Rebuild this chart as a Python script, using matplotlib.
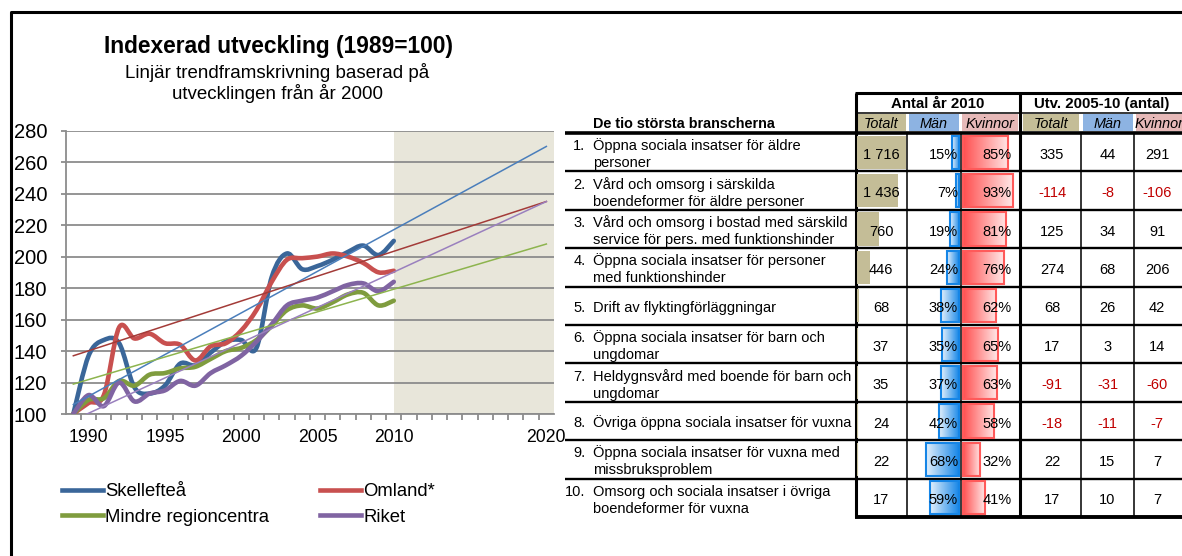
import numpy as np
import matplotlib
matplotlib.use("Agg")
import matplotlib.pyplot as plt
from matplotlib.path import Path
from matplotlib.patches import PathPatch, Rectangle
from matplotlib.lines import Line2D
from matplotlib.colors import LinearSegmentedColormap
from matplotlib import transforms

plt.rcParams['font.family'] = ['Liberation Sans', 'DejaVu Sans']

W, H = 1182, 556

# --- index series (1989 = 100) ---
years = list(range(1989, 2011))
skelleftea = [100, 137, 147, 145, 117, 113, 118, 132, 131, 139, 146, 147, 142, 187, 202, 192, 194, 198, 203, 207, 201, 210]
omland = [100, 107, 112, 155, 148, 151, 145, 144, 134, 143, 145, 153, 166, 184, 198, 199, 200, 202, 200, 196, 190, 191]
mindre = [100, 109, 110, 121, 118, 125, 126, 129, 130, 135, 140, 142, 147, 156, 166, 169, 167, 171, 176, 177, 169, 172]
riket = [100, 112, 105, 120, 108, 113, 115, 121, 118, 126, 131, 137, 146, 157, 169, 172, 174, 178, 182, 183, 178, 184]

# linear trend lines, value at first and last year
trend_years = [1989, 2020]
trend_skelleftea = [106, 270]
trend_omland = [137, 235]
trend_mindre = [119, 208]
trend_riket = [96, 235]

xtick_years = [1990, 1995, 2000, 2005, 2010, 2020]
forecast = (2010, 2020.5)

# --- table ---
branscher = [
    "Öppna sociala insatser för äldre\npersoner",
    "Vård och omsorg i särskilda\nboendeformer för äldre personer",
    "Vård och omsorg i bostad med särskild\nservice för pers. med funktionshinder",
    "Öppna sociala insatser för personer\nmed funktionshinder",
    "Drift av flyktingförläggningar",
    "Öppna sociala insatser för barn och\nungdomar",
    "Heldygnsvård med boende för barn och\nungdomar",
    "Övriga öppna sociala insatser för vuxna",
    "Öppna sociala insatser för vuxna med\nmissbruksproblem",
    "Omsorg och sociala insatser i övriga\nboendeformer för vuxna",
]
totalt = [1716, 1436, 760, 446, 68, 37, 35, 24, 22, 17]
man_pct = [15, 7, 19, 24, 38, 35, 37, 42, 68, 59]
kv_pct = [85, 93, 81, 76, 62, 65, 63, 58, 32, 41]
utv_totalt = [335, -114, 125, 274, 68, 17, -91, -18, 22, 17]
utv_man = [44, -8, 34, 68, 26, 3, -31, -11, 15, 10]
utv_kv = [291, -106, 91, 206, 42, 14, -60, -7, 7, 7]


def box(x0, y0, x1, y1):
    return [x0 / W, 1 - y1 / H, (x1 - x0) / W, (y1 - y0) / H]


def smooth_path(xs, ys):
    # excel-like smoothed line (bezier through the points)
    p = np.column_stack([xs, ys]).astype(float)
    n = len(p)
    verts, codes = [p[0]], [Path.MOVETO]
    for i in range(n - 1):
        p0, p1, p2, p3 = p[max(i - 1, 0)], p[i], p[i + 1], p[min(i + 2, n - 1)]
        verts += [p1 + (p2 - p0) / 6, p2 - (p3 - p1) / 6, p2]
        codes += [Path.CURVE4] * 3
    return Path(verts, codes)


fig = plt.figure(figsize=(W / 100, H / 100), dpi=100)
base = fig.add_axes([0, 0, 1, 1])
base.set_xlim(0, W)
base.set_ylim(H, 0)
base.axis('off')

# outer frame
base.plot([10.5, 10.5, W + 5], [H + 5, 11.5, 11.5], color='black', lw=2.2)

base.text(278, 52.5, 'Indexerad utveckling (1989=100)', ha='center', va='baseline',
          fontsize=16.4, fontweight='bold')
base.text(277, 77.5, 'Linjär trendframskrivning baserad på', ha='center', va='baseline', fontsize=13.5)
base.text(277, 99, 'utvecklingen från år 2000', ha='center', va='baseline', fontsize=13.5)

# --- line chart ---
ax = fig.add_axes(box(65.7, 130.7, 554, 414))
ax.set_xlim(1988.5, 2020.5)
ax.set_ylim(100, 280)
ax.axvspan(*forecast, color='#E8E6DA', lw=0, zorder=0)
ax.set_axisbelow(True)
ax.set_yticks(range(100, 281, 20))
ax.yaxis.grid(True, color='#8C8C8C', lw=1.3)
for s in ['top', 'right']:
    ax.spines[s].set_visible(False)
for s in ['left', 'bottom']:
    ax.spines[s].set_color('#8C8C8C')
    ax.spines[s].set_linewidth(1.3)
ax.tick_params(axis='y', length=3.6, width=1.3, color='#8C8C8C', labelsize=14.5, pad=9.6)
ax.set_xticks(xtick_years)
ax.set_xticks(np.arange(1989.5, 2020, 1), minor=True)
ax.tick_params(axis='x', which='major', length=0, labelsize=12.7, pad=11)
ax.tick_params(axis='x', which='minor', length=4.3, width=1.3, color='#8C8C8C')

series = [
    ('Skellefteå', skelleftea, '#3A6699', trend_skelleftea, '#4A7EBB'),
    ('Omland*', omland, '#C8504F', trend_omland, '#A33B38'),
    ('Mindre regioncentra', mindre, '#7F9C3E', trend_mindre, '#8DB44E'),
    ('Riket', riket, '#8064A2', trend_riket, '#9A80BE'),
]
handles = {}
for name, vals, col, tr, tcol in series:
    ax.add_patch(PathPatch(smooth_path(years, vals), facecolor='none', edgecolor=col,
                           lw=3.3, capstyle='round', joinstyle='round', zorder=3))
    ax.plot(trend_years, tr, color=tcol, lw=1.1, zorder=4)
    handles[name] = Line2D([], [], color=col, lw=3.3)

order = ['Skellefteå', 'Mindre regioncentra', 'Omland*', 'Riket']
fig.legend([handles[k] for k in order], order, ncol=2, loc='upper left',
           bbox_to_anchor=(62 / W, 1 - 483.5 / H), frameon=False, fontsize=13.3,
           handlelength=2.2, handletextpad=0.15, columnspacing=2.75, labelspacing=0.45,
           borderpad=0, borderaxespad=0)

# --- table ---
top, rh, n = 133, 38.4, len(branscher)
row_c = [top + (i + 0.5) * rh for i in range(n)]
fs = 10.5

base.text(593, 128, 'De tio största branscherna', ha='left', va='baseline', fontsize=10.4, fontweight='bold')
base.text(937.5, 107.7, 'Antal år 2010', ha='center', va='baseline', fontsize=10.8, fontweight='bold')
base.text(1102, 107.7, 'Utv. 2005-10 (antal)', ha='center', va='baseline', fontsize=10.8, fontweight='bold')

head_cells = [(857, 906, '#C4BD97', 'Totalt'), (909, 959, '#8DB3E2', 'Män'), (962, 1018, '#E6B9B8', 'Kvinnor'),
              (1023, 1079, '#C4BD97', 'Totalt'), (1083, 1133, '#8DB3E2', 'Män'), (1136, 1200, '#E6B9B8', 'Kvinnor')]
for x0, x1, c, t in head_cells:
    base.add_patch(Rectangle((x0, 114), x1 - x0, 17, facecolor=c, lw=0))
    xc = (x0 + x1) / 2 if x1 < W else 1159
    base.text(xc, 128.3, t, ha='center', va='baseline', fontsize=10.4, style='italic')

for i, lab in enumerate(branscher):
    lines = lab.split('\n')
    b1 = row_c[i] - 2 if len(lines) > 1 else row_c[i] + 6.3
    base.text(585.5, b1, f'{i + 1}.', ha='right', va='baseline', fontsize=fs)
    for k, ln in enumerate(lines):
        base.text(593, b1 + k * 17, ln, ha='left', va='baseline', fontsize=fs)

for xc, vals in [(1052, utv_totalt), (1107.5, utv_man), (1157, utv_kv)]:
    for i, v in enumerate(vals):
        base.text(xc, row_c[i] + 6.5, str(v), ha='center', va='baseline',
                  fontsize=fs, color='#C00000' if v < 0 else 'black')

# grid lines of the table
base.hlines(93.3, 855, W + 5, color='black', lw=2.2)
base.hlines(112.5, 855, W + 5, color='black', lw=1.1)
base.hlines(top, 565, W + 5, color='black', lw=2.6)
base.hlines([top + k * rh for k in range(1, n)], 565, W + 5, color='black', lw=1.7)
base.hlines(top + n * rh, 855, W + 5, color='black', lw=2.8)
base.vlines([855.5, 1020], 93, top + n * rh, color='black', lw=2.2)
base.vlines([907, 961, 1081, 1134], top, top + n * rh, color='black', lw=1.1)

rows = np.arange(n)
grad = np.linspace(1, 0, 256).reshape(1, -1)
blue_cm = LinearSegmentedColormap.from_list('bl', ['#E4F0FB', '#1787E8'])
red_cm = LinearSegmentedColormap.from_list('rd', ['#FFE8E8', '#FF4F4F'])


def col_axes(x0, x1, xlim):
    a = fig.add_axes(box(x0, top, x1, top + n * rh))
    a.axis('off')
    a.set_xlim(*xlim)
    a.set_ylim(n - 0.5, -0.5)
    return a


# Totalt
at = col_axes(855, 907, (-70, 1751))
at.barh(rows, totalt, height=0.86, color='#C4BD97', zorder=1)
trt = transforms.blended_transform_factory(at.transAxes, at.transData)
for i, v in enumerate(totalt):
    at.text(0.5, i + 6.5 / rh, f'{v:,}'.replace(',', ' '), transform=trt,
            ha='center', va='baseline', fontsize=fs, zorder=5)


def grad_bars(a, vals, cmap, edge, xlim, txt_x):
    bars = a.barh(rows, vals, height=0.86, facecolor='none', edgecolor=edge, lw=1.5, zorder=3)
    for b in bars:
        y, h = b.get_y(), b.get_height()
        im = a.imshow(grad, extent=[0, b.get_width(), y + h, y], cmap=cmap, vmin=0, vmax=1,
                      aspect='auto', interpolation='bilinear', zorder=2)
        im.set_clip_path(b)
    a.set_xlim(*xlim)
    a.set_ylim(n - 0.5, -0.5)
    tr = transforms.blended_transform_factory(a.transAxes, a.transData)
    for i, v in enumerate(vals):
        a.text(txt_x, i + 6.5 / rh, f'{v}%', transform=tr, ha='right', va='baseline',
               fontsize=fs, zorder=5)


am = col_axes(907, 961, (107.2, -4.1))
grad_bars(am, man_pct, blue_cm, '#1585E6', (107.2, -4.1), (958 - 907) / 54)
ak = col_axes(961, 1020, (-3.7, 106.5))
grad_bars(ak, kv_pct, red_cm, '#FF5A5A', (-3.7, 106.5), (1011.5 - 961) / 59)

fig.savefig('out.png', dpi=100)
